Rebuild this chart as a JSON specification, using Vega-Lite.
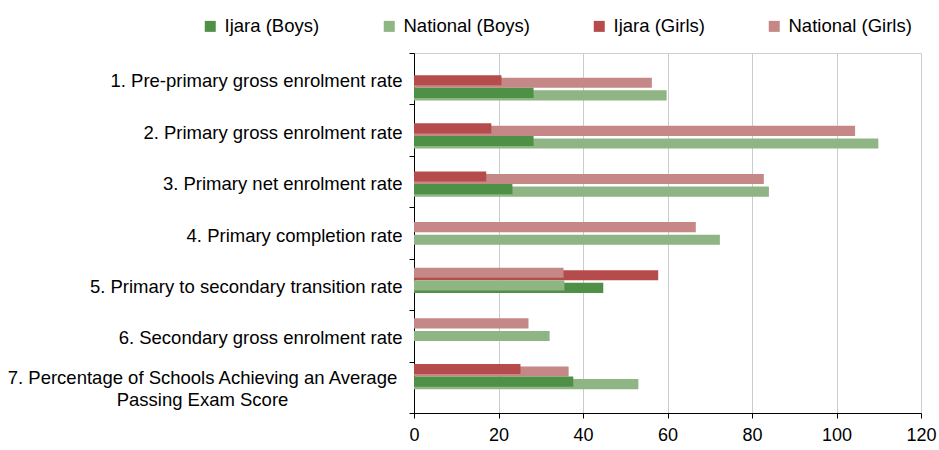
{
  "$schema": "https://vega.github.io/schema/vega-lite/v6.json",
  "width": 507,
  "height": 360,
  "autosize": {"type": "none"},
  "padding": {"left": 414, "top": 53, "right": 18, "bottom": 37},
  "background": "white",
  "config": {
    "font": "Liberation Sans",
    "view": {"stroke": "#D0D0D0"}
  },
  "data": {
    "values": [
      {"indicator": "1. Pre-primary gross enrolment rate", "sex": "Boys", "series": "Ijara (Boys)", "value": 28.3},
      {"indicator": "1. Pre-primary gross enrolment rate", "sex": "Boys", "series": "National (Boys)", "value": 59.8},
      {"indicator": "1. Pre-primary gross enrolment rate", "sex": "Girls", "series": "Ijara (Girls)", "value": 20.7},
      {"indicator": "1. Pre-primary gross enrolment rate", "sex": "Girls", "series": "National (Girls)", "value": 56.3},
      {"indicator": "2. Primary gross enrolment rate", "sex": "Boys", "series": "Ijara (Boys)", "value": 28.3},
      {"indicator": "2. Primary gross enrolment rate", "sex": "Boys", "series": "National (Boys)", "value": 109.9},
      {"indicator": "2. Primary gross enrolment rate", "sex": "Girls", "series": "Ijara (Girls)", "value": 18.3},
      {"indicator": "2. Primary gross enrolment rate", "sex": "Girls", "series": "National (Girls)", "value": 104.4},
      {"indicator": "3. Primary net enrolment rate", "sex": "Boys", "series": "Ijara (Boys)", "value": 23.3},
      {"indicator": "3. Primary net enrolment rate", "sex": "Boys", "series": "National (Boys)", "value": 84.0},
      {"indicator": "3. Primary net enrolment rate", "sex": "Girls", "series": "Ijara (Girls)", "value": 17.1},
      {"indicator": "3. Primary net enrolment rate", "sex": "Girls", "series": "National (Girls)", "value": 82.8},
      {"indicator": "4. Primary completion rate", "sex": "Boys", "series": "Ijara (Boys)", "value": null},
      {"indicator": "4. Primary completion rate", "sex": "Boys", "series": "National (Boys)", "value": 72.4},
      {"indicator": "4. Primary completion rate", "sex": "Girls", "series": "Ijara (Girls)", "value": null},
      {"indicator": "4. Primary completion rate", "sex": "Girls", "series": "National (Girls)", "value": 66.7},
      {"indicator": "5. Primary to secondary transition rate", "sex": "Boys", "series": "Ijara (Boys)", "value": 44.8},
      {"indicator": "5. Primary to secondary transition rate", "sex": "Boys", "series": "National (Boys)", "value": 35.6},
      {"indicator": "5. Primary to secondary transition rate", "sex": "Girls", "series": "Ijara (Girls)", "value": 57.8},
      {"indicator": "5. Primary to secondary transition rate", "sex": "Girls", "series": "National (Girls)", "value": 35.4},
      {"indicator": "6. Secondary gross enrolment rate", "sex": "Boys", "series": "Ijara (Boys)", "value": null},
      {"indicator": "6. Secondary gross enrolment rate", "sex": "Boys", "series": "National (Boys)", "value": 32.1},
      {"indicator": "6. Secondary gross enrolment rate", "sex": "Girls", "series": "Ijara (Girls)", "value": null},
      {"indicator": "6. Secondary gross enrolment rate", "sex": "Girls", "series": "National (Girls)", "value": 27.1},
      {"indicator": "7. Percentage of Schools Achieving an Average Passing Exam Score", "sex": "Boys", "series": "Ijara (Boys)", "value": 37.7},
      {"indicator": "7. Percentage of Schools Achieving an Average Passing Exam Score", "sex": "Boys", "series": "National (Boys)", "value": 53.1},
      {"indicator": "7. Percentage of Schools Achieving an Average Passing Exam Score", "sex": "Girls", "series": "Ijara (Girls)", "value": 25.2},
      {"indicator": "7. Percentage of Schools Achieving an Average Passing Exam Score", "sex": "Girls", "series": "National (Girls)", "value": 36.6}
    ]
  },
  "transform": [
    {
      "window": [{"op": "row_number", "as": "rank"}],
      "groupby": ["indicator", "sex"],
      "sort": [{"field": "value", "order": "ascending"}]
    }
  ],
  "encoding": {
    "x": {
      "field": "value",
      "type": "quantitative",
      "scale": {"domain": [0, 120], "nice": false, "zero": true},
      "axis": {
        "title": null,
        "values": [0, 20, 40, 60, 80, 100, 120],
        "labelFontSize": 18,
        "labelColor": "#000000",
        "labelPadding": 8,
        "labelFlush": false,
        "tickSize": 5,
        "tickColor": "#000000",
        "domainColor": "#000000",
        "grid": true,
        "gridColor": "#CCCCCC"
      }
    }
  },
  "layer": [
    {
      "mark": {"type": "tick", "opacity": 0},
      "encoding": {
        "y": {
          "field": "indicator",
          "type": "nominal",
          "sort": null,
          "scale": {
            "domain": [
              "1. Pre-primary gross enrolment rate",
              "2. Primary gross enrolment rate",
              "3. Primary net enrolment rate",
              "4. Primary completion rate",
              "5. Primary to secondary transition rate",
              "6. Secondary gross enrolment rate",
              "7. Percentage of Schools Achieving an Average Passing Exam Score"
            ],
            "paddingInner": 0,
            "paddingOuter": 0
          },
          "axis": {
            "title": null,
            "labelFontSize": 18.5,
            "labelColor": "#000000",
            "labelLimit": 600,
            "labelPadding": 7,
            "labelOffset": 2,
            "tickSize": 5,
            "tickColor": "#000000",
            "domainColor": "#000000",
            "tickBand": "extent",
            "grid": false,
            "labelExpr": "datum.value == '7. Percentage of Schools Achieving an Average Passing Exam Score' ? '' : datum.label"
          }
        }
      }
    },
    {
      "mark": {"type": "tick", "opacity": 0},
      "encoding": {
        "y": {
          "field": "indicator",
          "type": "nominal",
          "sort": null,
          "scale": {
            "domain": [
              "1. Pre-primary gross enrolment rate",
              "2. Primary gross enrolment rate",
              "3. Primary net enrolment rate",
              "4. Primary completion rate",
              "5. Primary to secondary transition rate",
              "6. Secondary gross enrolment rate",
              "7. Percentage of Schools Achieving an Average Passing Exam Score"
            ],
            "paddingInner": 0,
            "paddingOuter": 0
          },
          "axis": {
            "orient": "left",
            "title": null,
            "domain": false,
            "ticks": false,
            "grid": false,
            "labelFontSize": 18.5,
            "labelColor": "#000000",
            "labelLimit": 600,
            "labelLineHeight": 22,
            "labelAlign": "center",
            "labelPadding": 212,
            "labelOffset": -9,
            "labelExpr": "datum.value == '7. Percentage of Schools Achieving an Average Passing Exam Score' ? ['7. Percentage of Schools Achieving an Average', 'Passing Exam Score'] : ''"
          }
        }
      }
    },
    {
      "encoding": {
        "y": {
          "field": "indicator",
          "type": "nominal",
          "sort": null,
          "scale": {
            "domain": [
              "1. Pre-primary gross enrolment rate",
              "2. Primary gross enrolment rate",
              "3. Primary net enrolment rate",
              "4. Primary completion rate",
              "5. Primary to secondary transition rate",
              "6. Secondary gross enrolment rate",
              "7. Percentage of Schools Achieving an Average Passing Exam Score"
            ],
            "paddingInner": 0,
            "paddingOuter": 0.24
          },
          "axis": null
        },
        "color": {
          "field": "series",
          "type": "nominal",
          "scale": {
            "domain": ["Ijara (Boys)", "National (Boys)", "Ijara (Girls)", "National (Girls)"],
            "range": ["#4F9047", "#8EB583", "#B64B4B", "#C58887"]
          },
          "legend": {
            "orient": "none",
            "legendX": -213,
            "legendY": -36,
            "direction": "horizontal",
            "title": null,
            "symbolType": "square",
            "symbolSize": 121,
            "symbolStrokeWidth": 0,
            "symbolOpacity": 1,
            "labelFontSize": 18.5,
            "labelColor": "#000000",
            "columnPadding": 60,
            "labelOffset": 5,
            "padding": 0
          }
        }
      },
      "layer": [
        {
          "transform": [{"filter": "datum.rank == 2 && datum.value != null"}],
          "mark": {"type": "bar", "opacity": 1},
          "encoding": {
            "yOffset": {
              "field": "sex",
              "type": "nominal",
              "scale": {"domain": ["Girls", "Boys"], "paddingInner": 0.2, "paddingOuter": 1.5065, "align": 0.518}
            }
          }
        },
        {
          "transform": [{"filter": "datum.rank == 1 && datum.value != null"}],
          "mark": {"type": "bar", "opacity": 1},
          "encoding": {
            "yOffset": {
              "field": "sex",
              "type": "nominal",
              "scale": {"domain": ["Girls", "Boys"], "paddingInner": 0.2, "paddingOuter": 1.5065, "align": 0.418}
            }
          }
        }
      ],
      "resolve": {"scale": {"yOffset": "independent"}}
    }
  ],
  "resolve": {"scale": {"y": "independent"}}
}
